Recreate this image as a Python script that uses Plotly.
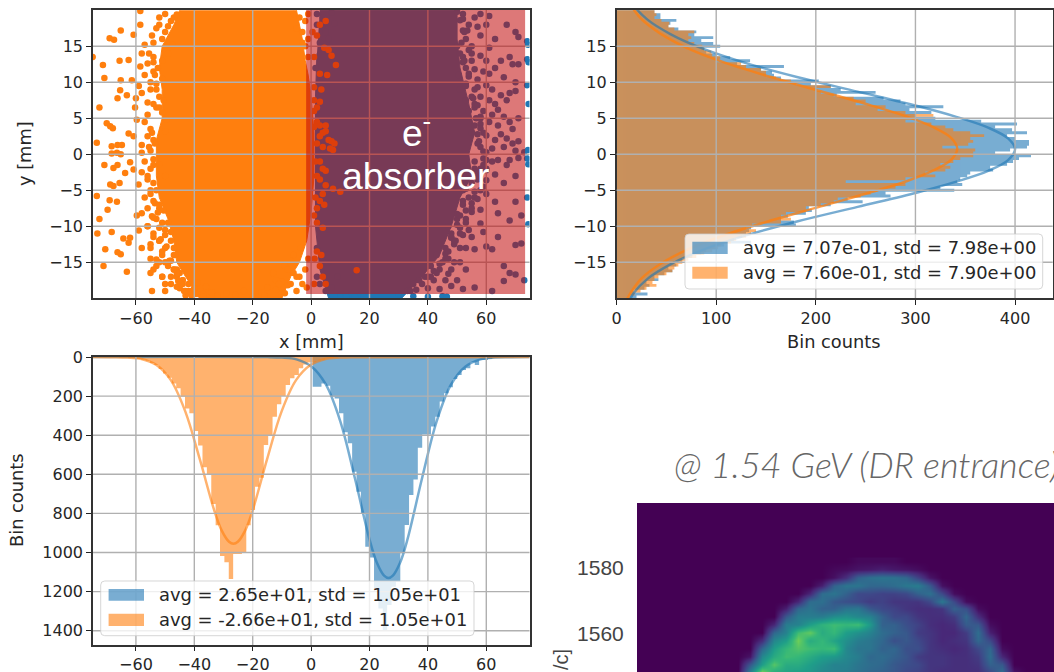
import numpy as np
import plotly.graph_objects as go

BLUE = "#1f77b4"
ORANGE = "#ff7f0e"
W, H = 1054, 672

# ---------- scatter panel: dense cores and individually read points ----------
orange_core_x = [-45,-47,-51,-52,-51,-51,-53,-53,-53,-52,-49,-47,-46,-43,-38,-10,-7,-4,-1.5,0,1,1,0,-1,-2,-3,-4,-5]
orange_core_y = [20,18,15,12,9,5,2,0,-3,-6,-9,-12,-15,-17,-20,-20,-17,-15,-12,-8,-3,3,8,11,13,16,18,20]
orange_pts_x = [-65.2,-60.8,-69,-67.5,-65.6,-62.5,-71.3,-74.8,-65.2,-70.8,-61.4,-65.4,-66.3,-63.1,-72.5,-60.3,-70,-68.8,-67.9,-59.7,
    -62.5,-60.8,-73.4,-66.3,-64.8,-68.3,-68.3,-66.5,-65.2,-58,-62,-70.8,-67.7,-66.3,-63.7,-60.8,-68.8,-67.7,-65.6,-59.1,
    -73.4,-69,-66.5,-69.7,-72.5,-59.7,-73.2,-68.3,-64.3,-62,-62.5,-70.5,-66.3,-65.2,-71.1,-63.1,-54.5,-58.5,-58.5,
    -52,-52,-50,-53,-48,-50,-47,-54,-57,-58,-54,-56,-58.5,-57,-54,-55,-59,-53,-58,-60,-56,-53,-57,-55,-56,-54,-58,-55,-57,-55,-58,-56,-54,-57,-54,-56,-52,-58,-53,-51,-56,-54,-50,-59,-52,-55,-48,-58,-51,-47,-53,-49,-55,-46,-51,-44,-48,-45,-50,-41,-43,-55,
    -51,-49,-47.5,-46,-49,-51,-52.5,-51,-53,-52,-50.5,-52,-51,-49.5,-50,-53.5,-54,-52,-50,-53,-55,-52,-54,-52.5,-50.5,-52,-49,-50,-51.5,-48,-50,-47,-49,-46.5,-48,-46,-45,-47,-44,-46,-42,-44,-40,-42,-39,-38,-40,-37,-36,-34,-32,-29,-26,-23,-20,-17,-15,-12,-10,-8,
    -54.5,-55.5,-54,-53.5,-55,-54,-56,-54.5,-55.5,-54,-56,-55,-53.5,-54.5,-56,-54,-55,-53,-51,-52,-50,-49.5,-54,-52,-51,-50,-48.5,-46,-44.5,-43,-48,-47,-45.5,-42,-41,-43.5,-39.5,-37,
    3,5,0.5,2,4.5,6,7,1,8.5,3,5.5,1,3.5,1,3,2,1,2,3,1,5,4,5,6,7,8,3,2,4,6.5,7.5,1.5,3,4,5,2,3,5,7.5,10,4,1.5,3,2,4.5,1,2,4,2,3.5,1.2,3,4,15.6,1,5,
    -4,-2,-6,-3,-1,-5,-2,-1,-1,-3,-4,-7,-3,-6,-2,-1,-5,-9,-10,-1.5,-12,-9,-6,-3.5,-8,-5,-13,-16,-11]
orange_pts_y = [17.2,16.6,16.1,15.9,13,13.1,12.4,13.5,10.3,10.6,10.3,8.9,7.8,8.2,6.5,6.5,4.3,3.9,3.6,4.8,
    2.9,2.5,1.6,1.3,1.3,1.1,0.1,0.2,0,1.3,-1.1,-1.5,-1.9,-1.5,-2.6,-2.1,-4.2,-4.4,-4,-4.2,
    -5.8,-6.4,-6.6,-7.7,-9,-8.5,-11,-10.8,-11.7,-11.6,-12.3,-13.2,-13.6,-13.9,-15.5,-16.3,-19,19.9,18,
    19,18,19.5,17.5,18.5,17,19,15.5,15.2,14,13.5,12.6,12.2,11,11.5,10,9.5,9,8.5,7.8,7.2,6.5,4.5,3.5,2.5,2,0.2,0.5,-1,-2,-2.5,-3.5,-4,-6,-6.5,-7.5,-7.5,-8.2,-9,-9.5,-10,-11,-10.5,-10.6,-12,-12.5,-12,-13,-14,-14,-15.5,-15.5,-16.5,-16,-17,-17.5,-18,-18.6,-19,-19,-19.6,-14.5,
    16,17.8,15.2,19.4,14,13,12,10.5,9.8,8,7.5,6.5,5.8,4.8,3.2,1.5,-0.7,-1.4,-3,-5,-5.5,-7,-8.8,-8.1,-7.8,-10.2,-9.5,-11.2,-11.8,-10.8,-13,-13,-15,-14,-14.8,-17,-16.5,-16,-18,-18.4,-19,-17.5,-18.6,-19.2,-17.8,-19.5,-18.6,-19.4,-18.4,-19.2,-19.6,-19.3,-19.5,-19,-19.7,-19.2,-18.5,-18.8,-17.7,-18.2,
    16.5,14,12.8,11,9,7,5.5,3,1,-1.5,-3,-5,-6.8,-8.6,-10,-11.5,-13,-14.6,-13.5,-12,-15,-12.8,-16,-15,-17,-18,-14.8,-16.5,-18,-19,-17,-16,-17.6,-18,-19.6,-19,-19.4,-19.8,
    18,18.5,17,16.5,14.8,14.5,13.7,13.5,12.4,11.2,11,9.3,9,7.5,7.3,6.5,6,4.5,4,3.8,4,3,3.2,2,1.8,1.5,2.5,1.5,1,0.8,0.6,-1,-1,-2,-2.3,-3,-3.5,-4.3,-4.8,-5.2,-5.5,-6,-6.5,-7.5,-7,-8.5,-9.5,-10.2,-13.5,-14,-14.5,-15.5,-17,-16.1,-18,-18,
    19,18.5,19.5,17,16,17.5,15,19.5,13.5,15.5,-17,-18,-18,-16.5,-16,-14.5,-19,-19.3,-18.5,-18.5,-17.5,-15.5,-14,-13,-16,-17,-16.5,-19.6,-18]

blue_core_x = [3,50,50,51,54,56,54,55,51,48,44,38,31,6,3,1.5,1.5,1.5,1.5,2]
blue_core_y = [20,20,16,12,7,3,0,-3,-6,-10,-14,-17,-20,-20,-16,-10,-6,0,8,14]
blue_pts_x = [52,56,58,61,54,57,52,60,67,70,71,63,58,53,55,61,
    52,55,58,60,65,68,71,69,53,56,59,54,57,61,63,66,70,
    57,60,62,65,68,70,58,61,63,56,59,64,66,71,62,67,
    58,61,64,68,69,57,60,63,65,67,69,71,66,58,60,62,70,73,
    56,59,62,64,68,71,67,60,57,63,70,55,60,66,52,
    52,56,60,63,70,55,58,64,72,50,53,58,68,47,
    48,51,55,59,64,70,72,46,49,53,56,60,43,47,51,62,
    41,44,48,53,66,68,70,39,42,46,50,66,73,35,40,44,48,52,56,62,30,35,40,45,46.5,
    50,51,52.5,50,51,54,52,50.5,53,51,55,53,56,58,54,56,55,57,59,57,60,56,58,53,55,57,53,51,54,50,52,49,51,48,46,49,47,44,46,42,38,40,36,33,
    52,53.5,51.5,55,52.5,54,53,56,55.5,57,58,56.5,58,59,57.5,59,60,58,57,59,56,54,55,52,53,50,51,48,49.5,47,45,43,41,37,34,
    74,74.3,74,74.5,74,74.5,74.3,74,74.4,74,74.4,
    2,4,7,2,5,3,6,2,3,5,7,10,12,15,18,1.5,3,8,4,2,6,9,5]
blue_pts_y = [19.5,19,19.5,19.2,18,17.7,17.2,18,18,17,16.3,16,16.5,16,15,14.8,
    13.5,13,13.7,13,13,13.5,12.5,12.5,12,11.8,11.5,10.8,10.4,11.2,12,10.7,10,
    9.3,9.6,9,8.2,8.5,8.8,8,7.5,7,6.5,6,6.2,5.2,5,5.5,7.5,
    4.2,4.5,4,4.5,3.5,2.8,2.6,2,2.8,2.2,1.5,1.8,1,1,0.3,0.8,0.5,0.3,
    -1,-0.6,-1,-0.8,-0.8,-0.5,-1.5,-2,-2.5,-2.8,-3,-4,-3.6,-4,-5,
    -6.5,-6,-5.5,-6.6,-6.6,-8,-7.7,-8.2,-8.5,-9,-9.5,-9.6,-9.2,-10,
    -11,-11,-11.5,-10.8,-11.5,-12.6,-12.4,-13,-12.5,-13,-13.2,-12.8,-14,-14.5,-15,-13.2,
    -15.5,-16,-16,-16,-15.5,-16.5,-16.7,-17,-17.5,-17.5,-17.5,-17.6,-17.5,-18,-18.6,-18.7,-18.3,-18.7,-18.5,-19,-19.4,-19.7,-19.8,-19.7,-19.8,
    19.8,18.6,17,15,14,14.5,12.8,11,9.5,9,8,7.5,7,5,6,4,3,1.5,-1.5,-3.5,-2.2,-2,-5,-4.8,-6.8,-6.2,-7.8,-8.5,-10.5,-9.8,-11.2,-12,-13,-11.6,-13.8,-15,-16.6,-15.2,-14.5,-16.2,-18,-17,-18.8,-19,
    18.8,17.2,15.5,14,13,11.2,9.8,9,7.8,6.8,5.2,5,3.6,3,1.8,0.4,-0.8,-2,-3.2,-4.5,-5.2,-6,-7.5,-7,-9,-8.3,-10.2,-11.5,-12,-13.5,-15,-16.5,-17,-17.5,-19,
    15.7,15.2,13.2,12.8,9.6,7,0.6,-0.6,-1.4,-6,-9.7,
    19.5,19,19.7,18,17,15.5,16,-17,-18,-19,-18.5,-19.7,-19.7,-19.8,-19.8,12,10,18.2,18,-13,-15,-17,-15]

# ---------- y histogram (top right), bins of 0.4 mm from -20 mm ----------
y_hist_blue = [20,31,17,28,33,30,42,38,48,56,52,60,58,66,76,85,90,100,108,135,118,126,130,133,135,180,178,165,172,190,
    196,193,215,247,232,275,270,339,325,347,342,345,352,355,378,375,392,398,404,416,380,395,412,414,414,400,392,412,397,380,
    402,366,320,300,316,294,328,290,285,268,221,260,225,215,195,203,165,158,156,145,168,121,134,114,100,90,88,104,97,85,
    97,78,80,62,52,54,60,44,44,38]
y_hist_orange = [14,18,24,30,40,36,38,42,50,56,58,62,66,72,80,88,96,102,105,115,120,130,135,140,130,136,165,175,165,170,
    190,190,205,218,222,245,255,262,280,290,230,290,320,310,330,335,325,338,345,358,358,360,327,353,358,355,369,355,338,330,
    316,290,300,318,290,262,270,240,250,238,218,205,200,215,180,175,160,150,150,145,130,125,100,104,96,95,88,86,78,72,
    75,72,78,58,52,53,45,38,40,38]
y_fit_blue_pos = [-20.3,-19.3,-17.3,-15.3,-13.3,-11.3,-9.3,-7.3,-5.3,-3.8,-2.3,-0.8,0.7,2.2,3.7,5.2,6.7,8.7,10.7,12.7,14.7,16.7,18.7,20.7,21.7]
y_fit_blue = [13,17,31,54,86,129,182,242,302,341,373,393,400,393,373,341,302,242,182,129,86,54,31,17,13]
y_fit_orange_pos = [-20.24,-19.24,-17.24,-15.24,-13.24,-11.24,-9.24,-7.24,-5.24,-3.74,-2.24,-0.74,0.76,2.26,3.76,5.26,6.76,8.76,10.76,12.76,14.76,16.76,18.76,20.76,21.76]
y_fit_orange = [10,14,25,44,71,108,154,205,256,291,318,336,342,336,318,291,256,205,154,108,71,44,25,14,10]

# ---------- x histogram (bottom left), bins of 1.5 mm ----------
x_hist_blue = [152,152,135,147,203,212,288,385,441,587,689,800,970,1025,1183,1286,1396,1268,1175,1150,1004,859,706,626,464,396,396,356,305,228,186,155,113,92,66,58,27,41,15,15,10,4,3,2,1,1]
x_hist_orange = [2,3,5,7,10,14,19,31,41,61,84,106,135,160,203,263,288,379,453,564,600,752,860,1018,1050,1136,1008,1008,1000,860,783,663,617,450,399,305,242,200,143,109,92,58,38,28,25,18,14,8,5,2]
x_fit_blue_pos = [-75,-15,-10,-5,0,5,10,15,20,22.5,25,26.5,28,30.5,33,38,43,48,53,58,63,68,75]
x_fit_blue = [0,0.5,3,12,47,139,329,620,933,1051,1118,1130,1118,1051,933,620,329,139,47,12,3,1,0]
x_fit_orange_pos = [-75,-68,-63,-58.1,-53.1,-48.1,-43.1,-38.1,-33.1,-30.6,-28.1,-26.6,-25.1,-22.6,-20.1,-15.1,-10.1,-5.1,-0.1,4.9,10,15,75]
x_fit_orange = [0,1,3,10,40,117,278,524,788,888,945,955,945,888,788,524,278,117,40,10,3,1,0]

# ---------- tick values and text ----------
x_ticks = [-60,-40,-20,0,20,40,60]
y_ticks = [-15,-10,-5,0,5,10,15]
count_ticks = [0,100,200,300,400]
xhist_count_ticks = [0,200,400,600,800,1000,1200,1400]
legend_top = ["avg = 7.07e-01, std = 7.98e+00", "avg = 7.60e-01, std = 7.90e+00"]
legend_bottom = ["avg = 2.65e+01, std = 1.05e+01", "avg = -2.66e+01, std = 1.05e+01"]

# ---------- cropped longitudinal phase-space picture (relative intensity) ----------
heat_energy = [1582,1579.6,1577.2,1574.8,1572.4,1570,1567.6,1565.2,1562.8,1560.4,1558,1555.6,1553.2,1550.8,1548.4]
heat_z = [
 [0,0,0,0,0,0,0,0,0,0,0,.02,.02,.02,.02,0,0,0,0,0,0,0,0,0,0,0,0,0],
 [0,0,0,0,0,0,0,0,0,.02,.03,.05,.06,.08,.06,.05,.03,0,0,0,0,0,0,0,0,0,0,0],
 [0,0,0,0,0,0,0,0,0,.04,.12,.28,.33,.35,.34,.30,.18,.05,0,0,0,0,0,0,0,0,0,0],
 [0,0,0,0,0,0,0,0,.08,.28,.35,.35,.30,.30,.32,.36,.38,.25,.04,0,0,0,0,0,0,0,0,0],
 [0,0,0,0,0,0,0,.10,.32,.35,.28,.20,.20,.18,.18,.20,.28,.33,.20,.03,0,0,0,0,0,0,0,0],
 [0,0,0,0,0,0,.10,.32,.33,.25,.22,.20,.16,.18,.14,.14,.14,.20,.36,.20,.03,0,0,0,0,0,0,0],
 [0,0,0,0,0,.08,.30,.35,.28,.28,.35,.36,.25,.20,.18,.14,.12,.12,.14,.28,.22,.03,0,0,0,0,0,0],
 [0,0,0,0,0,.25,.38,.38,.38,.44,.46,.42,.40,.28,.20,.20,.14,.12,.12,.16,.30,.12,0,0,0,0,0,0],
 [0,0,0,0,.10,.38,.40,.50,.58,.62,.60,.62,.48,.28,.28,.22,.18,.12,.10,.12,.26,.25,.03,0,0,0,0,0],
 [0,0,0,0,.30,.40,.62,.68,.55,.60,.50,.45,.40,.32,.28,.25,.16,.14,.10,.10,.16,.32,.08,0,0,0,0,0],
 [0,0,0,.12,.42,.50,.70,.55,.60,.52,.45,.38,.35,.30,.22,.25,.20,.14,.10,.12,.14,.30,.20,0,0,0,0,0],
 [0,0,0,.30,.50,.60,.65,.62,.60,.62,.42,.35,.35,.28,.30,.22,.22,.14,.12,.10,.12,.20,.30,.03,0,0,0,0],
 [0,0,.05,.42,.55,.62,.60,.55,.50,.48,.42,.38,.30,.32,.28,.24,.16,.14,.14,.12,.12,.16,.32,.10,0,0,0,0],
 [0,0,.25,.50,.66,.55,.55,.50,.45,.40,.40,.35,.32,.30,.25,.22,.20,.14,.14,.12,.12,.14,.28,.25,0,0,0,0],
 [0,0,.40,.72,.55,.52,.50,.48,.42,.40,.38,.34,.30,.28,.25,.20,.18,.14,.12,.12,.12,.12,.20,.32,.05,0,0,0],
]

# ---------- layout helpers (pixel box -> paper fractions) ----------
def dx(a, b): return [a / W, b / W]
def dy(top, bottom): return [1 - bottom / H, 1 - top / H]
def px(x): return x / W
def py(y): return 1 - y / H

def steps(values, first_center, width):
    """Outline of a histogram: bar edges and heights, closed on the zero line."""
    edges, heights = [], []
    for i, v in enumerate(values):
        left = first_center + (i - 0.5) * width
        edges += [left, left + width]
        heights += [v, v]
    return [edges[0]] + edges + [edges[-1]], [0] + heights + [0]

fig = go.Figure()

# scatter panel
fig.add_trace(go.Scatter(x=blue_core_x, y=blue_core_y, fill="toself", fillcolor=BLUE, mode="lines", line=dict(color=BLUE, width=1), xaxis="x", yaxis="y"))
fig.add_trace(go.Scatter(x=blue_pts_x, y=blue_pts_y, mode="markers", marker=dict(color=BLUE, size=6.5), xaxis="x", yaxis="y"))
fig.add_trace(go.Scatter(x=orange_core_x, y=orange_core_y, fill="toself", fillcolor=ORANGE, mode="lines", line=dict(color=ORANGE, width=1), xaxis="x", yaxis="y"))
fig.add_trace(go.Scatter(x=orange_pts_x, y=orange_pts_y, mode="markers", marker=dict(color=ORANGE, size=6.5), xaxis="x", yaxis="y"))

# y histogram (drawn as closed step outlines, so neighbouring bins have no seams)
for vals, col in ((y_hist_blue, BLUE), (y_hist_orange, ORANGE)):
    e, h = steps(vals, -19.8, 0.4)
    fig.add_trace(go.Scatter(x=h, y=e, mode="lines", line=dict(width=0, color=col), fill="toself", fillcolor=col, opacity=0.6, xaxis="x2", yaxis="y2"))
fig.add_trace(go.Scatter(x=y_fit_blue, y=y_fit_blue_pos, mode="lines", line=dict(color=BLUE, width=2.5, shape="spline"), opacity=0.6, xaxis="x2", yaxis="y2"))
fig.add_trace(go.Scatter(x=y_fit_orange, y=y_fit_orange_pos, mode="lines", line=dict(color=ORANGE, width=2.5, shape="spline"), opacity=0.75, xaxis="x2", yaxis="y2"))

# x histogram
for vals, first, col in ((x_hist_blue, 1.3, BLUE), (x_hist_orange, -64.95, ORANGE)):
    e, h = steps(vals, first, 1.5)
    fig.add_trace(go.Scatter(x=e, y=h, mode="lines", line=dict(width=0, color=col), fill="toself", fillcolor=col, opacity=0.6, xaxis="x3", yaxis="y3"))
fig.add_trace(go.Scatter(x=x_fit_blue_pos, y=x_fit_blue, mode="lines", line=dict(color=BLUE, width=2.5, shape="spline"), opacity=0.6, xaxis="x3", yaxis="y3"))
fig.add_trace(go.Scatter(x=x_fit_orange_pos, y=x_fit_orange, mode="lines", line=dict(color=ORANGE, width=2.5, shape="spline"), opacity=0.6, xaxis="x3", yaxis="y3"))

# phase-space picture
fig.add_trace(go.Heatmap(x=np.arange(len(heat_z[0])), y=heat_energy, z=heat_z, colorscale="Viridis", zmin=0, zmax=0.9, zsmooth="best", showscale=False, xaxis="x4", yaxis="y4"))

TICKFONT = dict(family="DejaVu Sans", size=16, color="#262626")
AX = dict(showgrid=False, zeroline=False, showline=True, mirror=True, linecolor="#333333", linewidth=1.5, automargin=False,
          ticks="outside", ticklen=5, tickcolor="#222222", tickwidth=1.2, tickfont=TICKFONT, tickmode="array", layer="above traces")

GRID = dict(color="#b0b0b0", width=1.4)
shapes = []
def vgrid(vals, xr, yr):
    for v in vals:
        shapes.append(dict(type="line", xref=xr, yref=yr + " domain", x0=v, x1=v, y0=0, y1=1, line=GRID, layer="above"))
def hgrid(vals, xr, yr):
    for v in vals:
        shapes.append(dict(type="line", xref=xr + " domain", yref=yr, x0=0, x1=1, y0=v, y1=v, line=GRID, layer="above"))

vgrid(x_ticks, "x", "y"); hgrid(y_ticks, "x", "y")
vgrid(count_ticks[1:], "x2", "y2"); hgrid(y_ticks, "x2", "y2")
vgrid(x_ticks, "x3", "y3"); hgrid(xhist_count_ticks[1:], "x3", "y3")

# absorber overlay
shapes.append(dict(type="rect", xref="x", yref="y", x0=-1.7, x1=73.3, y0=-19.4, y1=21, fillcolor="rgba(193,10,10,0.55)", line_width=0, layer="above"))

def legend_box(x0, y0, x1, y1, rows, texts, tx):
    r = 4
    p = (f"M{px(x0+r)},{py(y0)} L{px(x1-r)},{py(y0)} Q{px(x1)},{py(y0)} {px(x1)},{py(y0+r)} "
         f"L{px(x1)},{py(y1-r)} Q{px(x1)},{py(y1)} {px(x1-r)},{py(y1)} L{px(x0+r)},{py(y1)} "
         f"Q{px(x0)},{py(y1)} {px(x0)},{py(y1-r)} L{px(x0)},{py(y0+r)} Q{px(x0)},{py(y0)} {px(x0+r)},{py(y0)} Z")
    shapes.append(dict(type="path", xref="paper", yref="paper", path=p, fillcolor="rgba(255,255,255,0.8)",
                       line=dict(color="rgba(204,204,204,0.8)", width=1), layer="above"))
    out = []
    for (a, b, top, bot), col, t in zip(rows, (BLUE, ORANGE), texts):
        shapes.append(dict(type="rect", xref="paper", yref="paper", x0=px(a), x1=px(b), y0=py(bot), y1=py(top),
                           fillcolor=col, opacity=0.6, line_width=0, layer="above"))
        out.append(dict(xref="paper", yref="paper", x=px(tx), y=py((top + bot) / 2), text=t, showarrow=False,
                        xanchor="left", yanchor="middle", font=dict(family="DejaVu Sans", size=17.9, color="#262626")))
    return out

annotations = []
annotations += legend_box(685, 234, 1042.7, 289, [(692.3, 727.7, 241.7, 254), (692.3, 727.7, 266.7, 278.7)], legend_top, 741)
annotations += legend_box(100.7, 581, 474, 635.7, [(108.6, 144, 589, 600.7), (108.6, 144, 613.7, 626)], legend_bottom, 157)

def label(x, y, t, rot=0, **kw):
    f = dict(family="DejaVu Sans", size=17.8, color="#262626")
    f.update(kw)
    annotations.append(dict(xref="paper", yref="paper", x=px(x), y=py(y), text=t, showarrow=False, textangle=rot,
                            xanchor="center", yanchor="middle", font=f))

label(311, 341, "x [mm]")
label(25, 154, "y [mm]", rot=-90)
label(834, 341, "Bin counts")
label(16, 500, "Bin counts", rot=-90)
label(416, 130, "e<sup>-</sup>", family="Liberation Sans", size=37, color="white")
label(416, 176, "absorber", family="Liberation Sans", size=37.4, color="white")
label(561, 660, "/c]", rot=-90, family="Liberation Sans", size=20, color="#444444")
annotations.append(dict(xref="paper", yref="paper", x=px(672), y=py(464), text="@ 1.54 GeV (DR entrance)", showarrow=False,
                        xanchor="left", yanchor="middle", font=dict(family="Lato", size=36, color="#666666", style="italic", weight=300)))

heat_px_per_col = 12
heat_left = -(726 - 637) / heat_px_per_col
heat_right = (1054 - 726) / heat_px_per_col

fig.update_layout(
    template="none",
    width=W, height=H, autosize=False, margin=dict(l=0, r=0, t=0, b=0, pad=0, autoexpand=False),
    paper_bgcolor="white", plot_bgcolor="white", showlegend=False,
    shapes=shapes, annotations=annotations,
    xaxis=dict(AX, domain=dx(93, 529.5), range=[-74.7, 74.8], tickvals=x_ticks, anchor="y"),
    yaxis=dict(AX, domain=dy(10, 298), range=[-19.96, 20.04], tickvals=y_ticks, anchor="x"),
    xaxis2=dict(AX, domain=dx(616.6, 1052.7), range=[0, 437.8], tickvals=count_ticks, anchor="y2"),
    yaxis2=dict(AX, domain=dy(10, 298), range=[-19.96, 20.04], tickvals=y_ticks, anchor="x2"),
    xaxis3=dict(AX, domain=dx(93, 529.5), range=[-74.7, 74.8], tickvals=x_ticks, anchor="y3", ticklen=4),
    yaxis3=dict(AX, domain=dy(357, 645), range=[1473, 0], tickvals=xhist_count_ticks, anchor="x3"),
    xaxis4=dict(domain=dx(637, 1054), range=[heat_left, heat_right], showticklabels=False, ticks="", showgrid=False, zeroline=False, showline=False, automargin=False, anchor="y4"),
    yaxis4=dict(domain=dy(503, 672), range=[1548.5, 1599.7], tickmode="array", tickvals=[1560, 1580], showgrid=False, zeroline=False,
                showline=False, automargin=False, ticks="outside", ticklen=8, tickcolor="rgba(0,0,0,0)",
                tickfont=dict(family="Liberation Sans", size=21, color="#444444"), anchor="x4"),
)
fig.add_shape(type="rect", xref="x4 domain", yref="y4 domain", x0=0, x1=1, y0=0, y1=1, fillcolor="#440154", line_width=0, layer="below")

fig.write_html("out.html", config={"displayModeBar": False},
               post_script="document.body.style.margin='0';document.body.style.overflow='hidden';")
